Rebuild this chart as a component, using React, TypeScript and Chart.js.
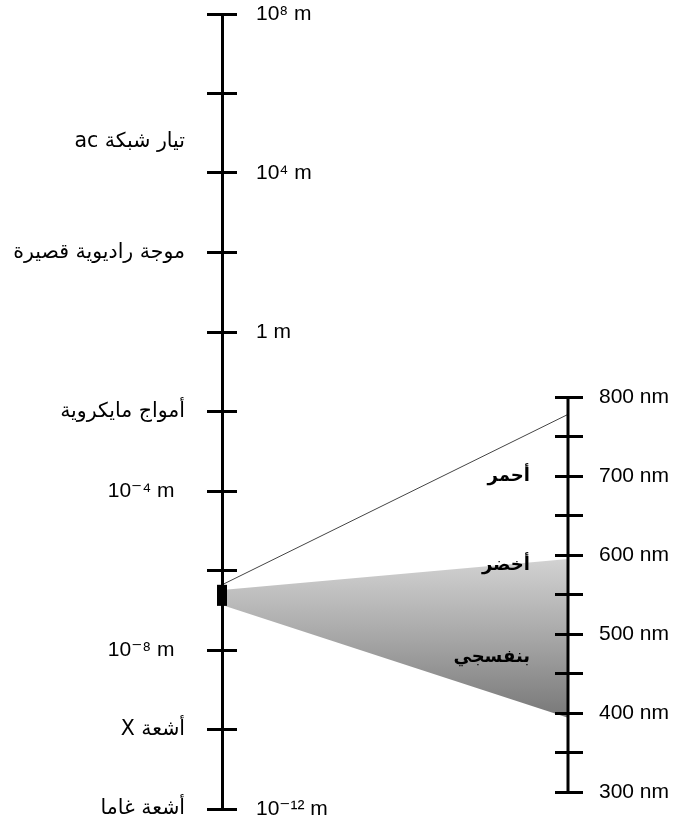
import { useEffect, useRef } from 'react';
import { Chart, registerables } from 'chart.js';

Chart.register(...registerables);

// ---- main (logarithmic) wavelength axis: exponents of 10 (metres) ----
const WAVE_EXPONENTS = [-12, -10, -8, -6, -4, -2, 0, 2, 4, 6, 8];
const WAVE_LEFT_LABELS = ['أشعة غاما', 'أشعة X', '10⁻⁸ m\u2002', '', '10⁻⁴ m\u2002', 'أمواج مايكروية', '', 'موجة راديوية قصيرة', '', '', ''];
const WAVE_RIGHT_LABELS = ['10⁻¹² m', '', '', '', '', '', '1 m', '', '10⁴ m', '', '10⁸ m'];
const AC_LABEL = 'تيار شبكة ac';
const AC_EXPONENT = 4.78;

// ---- visible-light axis (nm) ----
const NM_TICKS = [300, 350, 400, 450, 500, 550, 600, 650, 700, 750, 800];
const NM_LABELS = ['300 nm', '', '400 nm', '', '500 nm', '', '600 nm', '', '700 nm', '', '800 nm'];
const COLOR_NAMES = ['بنفسجي', 'أخضر', 'أحمر'];
const COLOR_NM = [471, 587, 700];

// ---- visible band on the main axis and its spread onto the nm axis ----
const VISIBLE_BAND_EXP = [-6.89, -6.36];
const SPREAD_LINE_EXP = -6.36;
const SPREAD_LINE_NM = 778;
const SHADE_LEFT_EXP = [-6.87, -6.49];
const SHADE_RIGHT_NM = [394, 595];

const LEFT_TICKS = [
  ...WAVE_EXPONENTS.map((e, i) => ({ exp: e, label: WAVE_LEFT_LABELS[i], mark: true })),
  { exp: AC_EXPONENT, label: AC_LABEL, mark: false },
].sort((a, b) => a.exp - b.exp);

const LATIN = '"Liberation Sans", Arial, "DejaVu Sans", sans-serif';
const ARABIC = '"DejaVu Sans", "Liberation Sans", sans-serif';
const isArabic = (s: string) => /[\u0600-\u06FF]/.test(s);
const bidi = (s: string) => (isArabic(s) ? '\u2067' + s + '\u2069' : s);
const tickFont = (ctx: any) => {
  const lbl = String(ctx?.tick?.label ?? '');
  return isArabic(lbl) ? { family: ARABIC, size: 20.5 } : { family: LATIN, size: 21 };
};
const zeroPad = (s: any) => {
  s.paddingTop = 0;
  s.paddingBottom = 0;
  s.paddingLeft = 0;
  s.paddingRight = 0;
};

const funnelPlugin = {
  id: 'visibleFunnel',
  beforeDraw(chart: any) {
    const { ctx, scales } = chart;
    const x = scales.x, yL = scales.yL, yR = scales.yR;
    if (!x || !yL || !yR) return;
    const x0 = x.getPixelForValue(0);
    const x1 = x.getPixelForValue(1);
    const lTop = yL.getPixelForValue(Math.pow(10, SHADE_LEFT_EXP[1]));
    const lBot = yL.getPixelForValue(Math.pow(10, SHADE_LEFT_EXP[0]));
    const rTop = yR.getPixelForValue(SHADE_RIGHT_NM[1]);
    const rBot = yR.getPixelForValue(SHADE_RIGHT_NM[0]);
    ctx.save();
    const g = ctx.createLinearGradient(0, rTop, 0, rBot);
    g.addColorStop(0, '#d2d2d2');
    g.addColorStop(0.45, '#ababab');
    g.addColorStop(1, '#787878');
    ctx.fillStyle = g;
    ctx.beginPath();
    ctx.moveTo(x0, lTop);
    ctx.lineTo(x1, rTop);
    ctx.lineTo(x1, rBot);
    ctx.lineTo(x0, lBot);
    ctx.closePath();
    ctx.fill();
    ctx.strokeStyle = '#444';
    ctx.lineWidth = 1;
    ctx.beginPath();
    ctx.moveTo(x0, yL.getPixelForValue(Math.pow(10, SPREAD_LINE_EXP)));
    ctx.lineTo(x1, yR.getPixelForValue(SPREAD_LINE_NM));
    ctx.stroke();
    ctx.restore();
  },
};

export default function App() {
  const ref = useRef<HTMLCanvasElement>(null);
  useEffect(() => {
    const chart = new Chart(ref.current as HTMLCanvasElement, {
      type: 'line',
      data: {
        datasets: [
          {
            data: [
              { x: 0, y: Math.pow(10, VISIBLE_BAND_EXP[0]) },
              { x: 0, y: Math.pow(10, VISIBLE_BAND_EXP[1]) },
            ],
            yAxisID: 'yL',
            borderColor: '#000',
            borderWidth: 10,
            borderCapStyle: 'butt',
            pointRadius: 0,
            clip: false,
          } as any,
          {
            data: [
              { x: 1, y: NM_TICKS[0] },
              { x: 1, y: NM_TICKS[NM_TICKS.length - 1] },
            ],
            yAxisID: 'yR',
            borderColor: '#000',
            borderWidth: 3,
            pointRadius: 0,
            clip: false,
          } as any,
        ],
      },
      options: {
        animation: false,
        responsive: true,
        maintainAspectRatio: false,
        layout: { padding: { top: 14, bottom: 16, left: 0, right: 0 } },
        plugins: { legend: { display: false }, tooltip: { enabled: false } },
        scales: {
          x: { type: 'linear', min: 0, max: 1, display: false },
          yL: {
            type: 'logarithmic',
            position: 'left',
            weight: 1,
            min: 1e-12,
            max: 1e8,
            afterBuildTicks: (s: any) => {
              s.ticks = LEFT_TICKS.map((t) => ({ value: Math.pow(10, t.exp) }));
            },
            afterFit: (s: any) => {
              s.width = 222;
              zeroPad(s);
            },
            border: { display: true, width: 3, color: '#000' },
            grid: {
              display: true,
              drawOnChartArea: false,
              drawTicks: true,
              tickLength: 15,
              lineWidth: 3,
              tickWidth: 3,
              tickColor: (c: any) => (LEFT_TICKS[c.index] && !LEFT_TICKS[c.index].mark ? 'rgba(0,0,0,0)' : '#000'),
            },
            ticks: {
              autoSkip: false,
              padding: 22,
              color: '#000',
              font: tickFont,
              callback: (_v: any, i: number) => bidi(LEFT_TICKS[i] ? LEFT_TICKS[i].label : ''),
            },
          },
          yLm: {
            type: 'logarithmic',
            position: 'left',
            weight: 0,
            min: 1e-12,
            max: 1e8,
            afterBuildTicks: (s: any) => {
              s.ticks = WAVE_EXPONENTS.map((e) => ({ value: Math.pow(10, e) }));
            },
            afterFit: (s: any) => {
              s.width = 0;
              zeroPad(s);
            },
            border: { display: false },
            grid: {
              display: true,
              drawOnChartArea: false,
              drawTicks: true,
              tickLength: -15,
              tickWidth: 3,
              tickColor: '#000',
            },
            ticks: {
              mirror: true,
              autoSkip: false,
              padding: 34,
              color: '#000',
              font: tickFont,
              callback: (_v: any, i: number) => WAVE_RIGHT_LABELS[i] ?? '',
            },
          },
          yR: {
            type: 'linear',
            position: 'right',
            weight: 1,
            min: 278.5,
            max: 1284.8,
            afterBuildTicks: (s: any) => {
              s.ticks = NM_TICKS.map((v) => ({ value: v }));
            },
            afterFit: (s: any) => {
              s.width = 107;
              zeroPad(s);
            },
            border: { display: false },
            grid: {
              display: true,
              drawOnChartArea: false,
              drawTicks: true,
              tickLength: 15,
              tickWidth: 3,
              tickColor: '#000',
            },
            ticks: {
              autoSkip: false,
              padding: 16,
              color: '#000',
              font: tickFont,
              callback: (_v: any, i: number) => NM_LABELS[i] ?? '',
            },
          },
          yRm: {
            type: 'linear',
            position: 'right',
            weight: 0,
            min: 278.5,
            max: 1284.8,
            afterBuildTicks: (s: any) => {
              s.ticks = NM_TICKS.map((v) => ({ value: v }));
            },
            afterFit: (s: any) => {
              s.width = 0;
              zeroPad(s);
            },
            border: { display: false },
            grid: {
              display: true,
              drawOnChartArea: false,
              drawTicks: true,
              tickLength: -13,
              tickWidth: 3,
              tickColor: '#000',
            },
            ticks: { display: false },
          },
          yRc: {
            type: 'linear',
            position: 'right',
            weight: 0,
            min: 278.5,
            max: 1284.8,
            afterBuildTicks: (s: any) => {
              s.ticks = COLOR_NM.map((v) => ({ value: v }));
            },
            afterFit: (s: any) => {
              s.width = 0;
              zeroPad(s);
            },
            border: { display: false },
            grid: { display: false },
            ticks: {
              mirror: true,
              autoSkip: false,
              padding: -38,
              color: '#000',
              font: { family: ARABIC, size: 18, weight: 'bold' },
              callback: (_v: any, i: number) => bidi(COLOR_NAMES[i] ?? ''),
            },
          },
        },
      } as any,
      plugins: [funnelPlugin],
    });
    return () => chart.destroy();
  }, []);

  return (
    <div style={{ position: 'absolute', left: 0, top: 0, width: 675, height: 825, background: '#fff' }}>
      <canvas ref={ref} />
    </div>
  );
}
